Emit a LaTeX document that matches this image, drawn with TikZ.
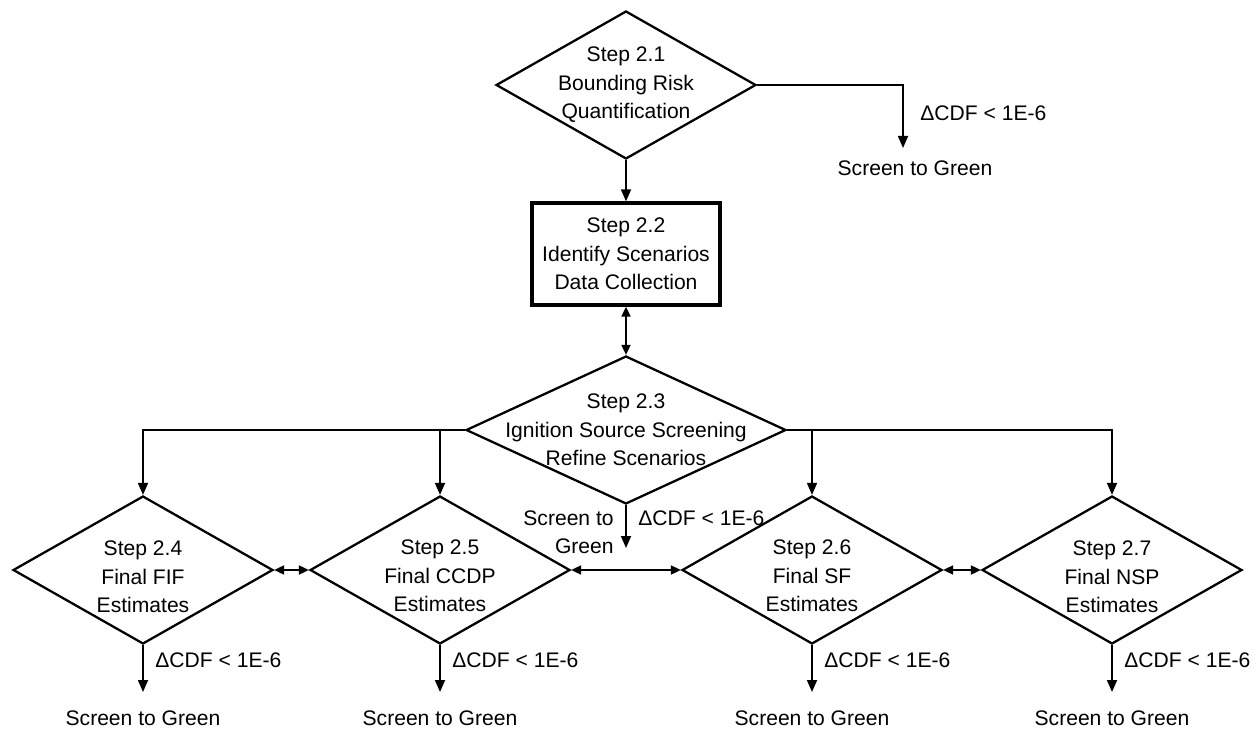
\documentclass[tikz,border=0pt]{standalone}
\usepackage{fontspec}
\setmainfont{Liberation Sans}
\usetikzlibrary{shapes.geometric,arrows.meta}

\begin{document}
\begin{tikzpicture}[x=0.02cm, y=-0.02cm,
    font=\fontsize{12}{16.2}\selectfont,
    decision/.style={diamond, draw, line width=1.3pt, inner sep=0pt, minimum width=5.2cm, minimum height=2.96cm},
    stepbox/.style={rectangle, draw, line width=1.9pt, inner sep=0pt, minimum width=3.76cm, minimum height=2.04cm, align=center},
    steptext/.style={align=center, inner sep=0pt},
    cond/.style={anchor=west, inner sep=0pt},
    screen/.style={inner sep=0pt},
    flow/.style={line width=1pt, -{Triangle[length=0.24cm,width=0.2cm]}},
    twoway/.style={line width=1pt, {Triangle[length=0.2cm,width=0.18cm]}-{Triangle[length=0.2cm,width=0.18cm]}}]
    \useasboundingbox (0,0) rectangle (1260,729);

    % top of the chart
    \node[decision] (s21) at (626,85) {};
    \node[steptext] (t21) at (s21) {Step 2.1\\Bounding Risk\\Quantification};
    \node[stepbox] (s22) at (626,254) {Step 2.2\\Identify Scenarios\\Data Collection};
    \node[decision, minimum width=6.4cm] (s23) at (626,430) {};
    \node[steptext] (t23) at (s23) {Step 2.3\\Ignition Source Screening\\Refine Scenarios};

    % the four final estimates
    \node[decision] (s24) at (143,570) {};
    \node[steptext] (t24) at (143,577) {Step 2.4\\Final FIF\\Estimates};
    \node[decision] (s25) at (440,570) {};
    \node[steptext] (t25) at (440,576) {Step 2.5\\Final CCDP\\Estimates};
    \node[decision] (s26) at (812,570) {};
    \node[steptext] (t26) at (812,576) {Step 2.6\\Final SF\\Estimates};
    \node[decision] (s27) at (1112,570) {};
    \node[steptext] (t27) at (1112,577) {Step 2.7\\Final NSP\\Estimates};

    % screening exits
    \coordinate (e21) at (903,148);
    \coordinate (e23) at (626,548);
    \coordinate (e24) at (143,692);
    \coordinate (e25) at (440,692);
    \coordinate (e26) at (812,692);
    \coordinate (e27) at (1112,692);

    \node[cond] (c21) at (920,113) {ΔCDF < 1E-6};
    \node[screen] (g21) at (915,168) {Screen to Green};
    \node[cond] (c23) at (638,518) {ΔCDF < 1E-6};
    \node[screen, anchor=east, align=right] (g23) at (614,532) {Screen to\\Green};
    \node[cond] (c24) at (155,660) {ΔCDF < 1E-6};
    \node[screen] (g24) at (143,718) {Screen to Green};
    \node[cond] (c25) at (452,660) {ΔCDF < 1E-6};
    \node[screen] (g25) at (440,718) {Screen to Green};
    \node[cond] (c26) at (824,660) {ΔCDF < 1E-6};
    \node[screen] (g26) at (812,718) {Screen to Green};
    \node[cond] (c27) at (1124,660) {ΔCDF < 1E-6};
    \node[screen] (g27) at (1112,718) {Screen to Green};

    \draw[flow] (s21.south) -- (s22.north);
    \draw[flow] (s21.east) -| (e21);
    \draw[twoway] (s22.south) -- (s23.north);
    \draw[flow] (s23.west) -| (s24.north);
    \draw[flow] (s25.north |- s23.west) -- (s25.north);
    \draw[flow] (s23.east) -| (s27.north);
    \draw[flow] (s26.north |- s23.east) -- (s26.north);
    \draw[flow] (s23.south) -- (e23);

    \draw[twoway] (s24.east) -- (s25.west);
    \draw[twoway] (s25.east) -- (s26.west);
    \draw[twoway] (s26.east) -- (s27.west);

    \draw[flow] (s24.south) -- (e24);
    \draw[flow] (s25.south) -- (e25);
    \draw[flow] (s26.south) -- (e26);
    \draw[flow] (s27.south) -- (e27);
\end{tikzpicture}
\end{document}
